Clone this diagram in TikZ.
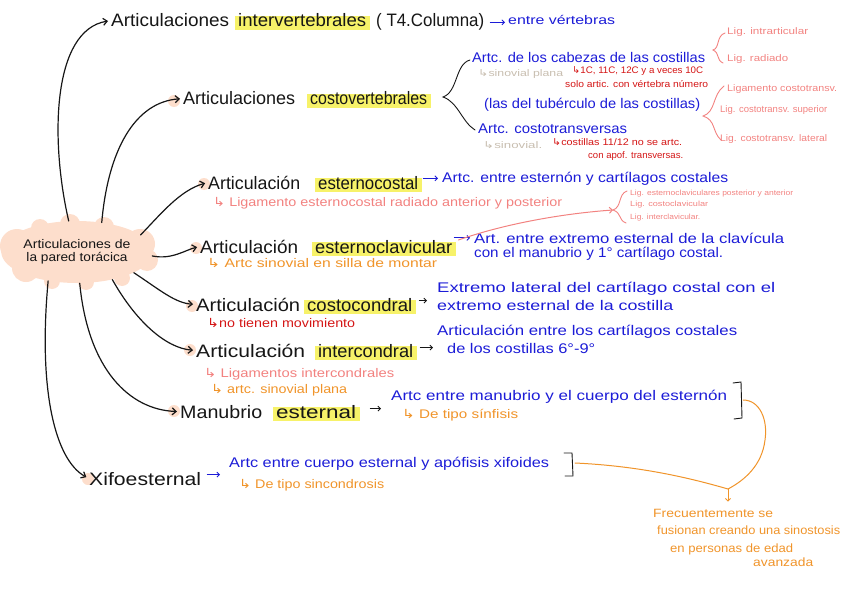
\documentclass[tikz,border=0pt]{standalone}
\usepackage{graphicx}
\usepackage{fontspec}
\setmainfont{Liberation Sans}
\newfontfamily\symf{DejaVu Sans}
\usetikzlibrary{arrows.meta,backgrounds,calc,shapes.geometric}
\definecolor{ink}{RGB}{22,22,22}
\definecolor{blu}{RGB}{28,28,215}
\definecolor{pnk}{RGB}{242,130,128}
\definecolor{rd}{RGB}{212,22,22}
\definecolor{org}{RGB}{240,148,42}
\definecolor{gry}{RGB}{200,190,176}
\definecolor{hlc}{RGB}{247,242,105}
\definecolor{peach}{RGB}{253,222,204}
\newcommand{\fx}[2]{\resizebox{#1pt}{\height}{#2}}
\newcommand{\dn}{{\symf ↳}}
\begin{document}
\begin{tikzpicture}[x=1pt,y=-1pt,
  tx/.style={anchor=base west,inner sep=0pt},
  hd/.style={tx,text=ink,font=\fontsize{18}{20}\selectfont},
  bl/.style={tx,text=blu,font=\fontsize{14}{16}\selectfont},
  sb/.style={tx,font=\fontsize{12.5}{15}\selectfont},
  sm/.style={tx,font=\fontsize{9.5}{11}\selectfont},
  tn/.style={tx,font=\fontsize{7.5}{9}\selectfont},
  fin/.style={tx,text=org,font=\fontsize{12}{14}\selectfont},
  conn/.style={draw=ink,line width=1.2pt,line cap=round,-{Straight Barb[length=4pt,width=7pt]},shorten >=3pt},
  sarr/.style={line width=0.9pt,line cap=round,-{Straight Barb[length=2.5pt,width=5pt]}},
  brc/.style={line width=0.9pt,line cap=round}]
\useasboundingbox (0,0) rectangle (848,599);

% central node
\node[ellipse,fill=peach,minimum width=150pt,minimum height=62pt,inner sep=0pt,align=center,text=ink,font=\fontsize{12.5}{13.5}\selectfont] (c) at (77,252) {\fx{107}{Articulaciones de}\\\fx{101}{la pared torácica}};

% heads
\node[hd] (h1a) at (111,27) {\fx{118}{Articulaciones}};
\node[hd] (h1b) at (238,27) {\fx{128}{intervertebrales}};
\node[hd] (h1c) at (376,27) {\fx{108}{( T4.Columna)}};
\node[tx,text=blu,font=\fontsize{12.5}{14}\selectfont] (e1) at (508,25) {\fx{107}{entre vértebras}};

\node[hd] (h2a) at (183,105) {\fx{112}{Articulaciones}};
\node[hd] (h2b) at (310,105) {\fx{117}{costovertebrales}};
\node[bl] (b1) at (472,63) {\fx{233}{Artc. de los cabezas de las costillas}};
\node[sm,text=gry] (g1) at (478,77) {\fx{85}{\dn sinovial plana}};
\node[sm,text=rd] (r1) at (572,74) {\fx{131}{\dn 1C, 11C, 12C y a veces 10C}};
\node[sm,text=rd] (r2) at (565,88) {\fx{143}{solo artic. con vértebra número}};
\node[bl] (b2) at (484,109) {\fx{216}{(las del tubérculo de las costillas)}};
\node[bl] (b3) at (478,134) {\fx{149}{Artc. costotransversas}};
\node[sm,text=gry] (g2) at (483,148) {\fx{59}{\dn sinovial.}};
\node[sm,text=rd] (r3) at (552,146) {\fx{130}{\dn costillas 11/12 no se artc.}};
\node[sm,text=rd] (r4) at (588,158) {\fx{95}{con apof. transversas.}};
\node[sm,text=pnk] (p1) at (727,35) {\fx{81}{Lig. intrarticular}};
\node[sm,text=pnk] (p2) at (727,62) {\fx{61}{Lig. radiado}};
\node[sm,text=pnk] (p3) at (727,92) {\fx{110}{Ligamento costotransv.}};
\node[sm,text=pnk] (p4) at (720,113) {\fx{107}{Lig. costotransv. superior}};
\node[sm,text=pnk] (p5) at (720,141) {\fx{107}{Lig. costotransv. lateral}};

\node[hd] (h3a) at (208,189) {\fx{92}{Articulación}};
\node[hd] (h3b) at (318,189) {\fx{100}{esternocostal}};
\node[bl] (b4) at (442,182) {\fx{286}{Artc. entre esternón y cartílagos costales}};
\node[sb,text=pnk] (p6) at (213,206) {\fx{349}{\dn\ Ligamento esternocostal radiado anterior y posterior}};
\node[tn,text=pnk] (p7) at (630,195) {\fx{163}{Lig. esternoclaviculares posterior y anterior}};
\node[tn,text=pnk] (p8) at (630,206) {\fx{78}{Lig. costoclavicular}};
\node[tn,text=pnk] (p9) at (630,219) {\fx{70}{Lig. interclavicular.}};

\node[hd] (h4a) at (200,253) {\fx{98}{Articulación}};
\node[hd] (h4b) at (315,253) {\fx{137}{esternoclavicular}};
\node[bl] (b5) at (474,243) {\fx{310}{Art. entre extremo esternal de la clavícula}};
\node[bl] (b6) at (474,257) {\fx{249}{con el manubrio y 1° cartílago costal.}};
\node[sb,text=org] (o1) at (207,267) {\fx{230}{\dn\ Artc sinovial en silla de montar}};

\node[hd] (h5a) at (196,311) {\fx{104}{Articulación}};
\node[hd] (h5b) at (307,311) {\fx{105}{costocondral}};
\node[bl] (b7) at (437,292) {\fx{338}{Extremo lateral del cartílago costal con el}};
\node[bl] (b8) at (437,310) {\fx{236}{extremo esternal de la costilla}};
\node[sb,text=rd] (r5) at (207,327) {\fx{148}{\dn no tienen movimiento}};
\node[bl] (b9) at (437,335) {\fx{300}{Articulación entre los cartílagos costales}};
\node[bl] (b10) at (447,353) {\fx{148}{de los costillas 6°-9°}};

\node[hd] (h6a) at (196,357) {\fx{109}{Articulación}};
\node[hd] (h6b) at (318,357) {\fx{95}{intercondral}};
\node[sb,text=pnk] (p10) at (204,377) {\fx{190}{\dn\ Ligamentos intercondrales}};
\node[sb,text=org] (o2) at (211,393) {\fx{136}{\dn\ artc. sinovial plana}};

\node[hd] (h7a) at (180,418) {\fx{82}{Manubrio}};
\node[hd] (h7b) at (276,418) {\fx{80}{esternal}};
\node[bl] (b11) at (391,400) {\fx{336}{Artc entre manubrio y el cuerpo del esternón}};
\node[sb,text=org] (o3) at (402,418) {\fx{116}{\dn\ De tipo sínfisis}};

\node[hd] (h8) at (89,485) {\fx{112}{Xifoesternal}};
\node[bl] (b12) at (229,467) {\fx{320}{Artc entre cuerpo esternal y apófisis xifoides}};
\node[sb,text=org] (o4) at (239,488) {\fx{145}{\dn\ De tipo sincondrosis}};

\node[fin] (f1) at (653,517) {\fx{120}{Frecuentemente se}};
\node[fin] (f2) at (657,534) {\fx{183}{fusionan creando una sinostosis}};
\node[fin] (f3) at (670,552) {\fx{123}{en personas de edad}};
\node[fin] (f4) at (753,566) {\fx{60}{avanzada}};

% background: cloud bumps, highlights
\begin{scope}[on background layer]
  \fill[peach] (17,246) circle (17) (26,268) circle (14) (140,244) circle (15)
    (147,260) circle (11) (70,224) circle (10) (104,227) circle (10) (40,228) circle (9)
    (86,282) circle (8) (122,278) circle (8) (52,281) circle (8);
  \foreach \p in {(174,101),(204,184),(196,248),(192,306),(190,350),(174,411),(88,479)}
    \fill[peach] \p circle (6);
  \foreach \n in {h1b,h2b,h3b,h4b,h5b,h6b,h7b}
    \fill[hlc] ($(\n.base west)+(-3,3)$) rectangle ($(\n.base east)+(4,-11)$);
\end{scope}

% connectors from the central node
\draw[conn] (c.105) .. controls (50,140) and (52,30) .. (h1a.west);
\draw[conn] (c.50) .. controls (108,150) and (135,102) .. (h2a.west);
\draw[conn] (c.15) .. controls (160,215) and (180,190) .. (h3a.west);
\draw[conn] (c.-3) .. controls (172,260) and (185,250) .. (h4a.west);
\draw[conn] (c.-20) .. controls (160,290) and (175,303) .. (h5a.west);
\draw[conn] (c.-38) .. controls (135,320) and (165,348) .. (h6a.west);
\draw[conn] (c.-85) .. controls (88,370) and (130,410) .. (h7a.west);
\draw[conn] (c.-135) .. controls (38,390) and (55,460) .. (h8.west);

% small arrows
\draw[sarr,blu,shorten <=6pt,shorten >=3pt] (h1c.east) -- (h1c.east -| e1.west);
\draw[sarr,blu,shorten <=5pt,shorten >=4pt] (h3b.east |- b4.west) -- (b4.west);
\draw[sarr,blu,shorten <=2pt,shorten >=4pt] (h4b.east |- b5.west) -- (b5.west);
\draw[sarr,ink,shorten <=7pt,shorten >=10pt] ($(h5b.east)+(0,-4)$) -- ($(h5b.east -| b7.west)+(0,-4)$);
\draw[sarr,ink,shorten <=7pt,shorten >=14pt] ($(h6b.east)+(0,-3)$) -- ($(h6b.east -| b10.west)+(0,-3)$);
\draw[sarr,ink,shorten <=14pt,shorten >=10pt] ($(h7b.east)+(0,-3)$) -- ($(h7b.east -| b11.west)+(0,-3)$);
\draw[sarr,blu,shorten <=6pt,shorten >=9pt] ($(h8.east)+(0,-4)$) -- ($(h8.east -| b12.west)+(0,-4)$);

% black brace for costovertebrales
\draw[brc,ink] (470,60) .. controls (455,64) and (458,92) .. (443,97) .. controls (458,102) and (462,122) .. (475,130);

% pink braces
\draw[brc,pnk] (725,33) .. controls (716,36) and (720,48) .. (713,50) .. controls (720,53) and (716,60) .. (723,63);
\draw[brc,pnk] (724,86) .. controls (712,95) and (716,112) .. (703,116) .. controls (716,120) and (712,132) .. (721,140);
\coordinate (pt) at (613,210);
\draw[brc,pnk] (627,191) .. controls (618,194) and (622,207) .. (pt) .. controls (622,213) and (618,220) .. (626,223);
\draw[pnk,line width=1pt,line cap=round,-{Straight Barb[length=3pt,width=6pt]}] ($(h4b.base east)+(6,-13)$) .. controls (510,222) and (570,213) .. (pt);

% brackets
\draw[brc,ink] (733,383) -- (741,382) -- (742,418) -- (734,419);
\draw[brc,ink] (564,453) -- (572,453) -- (573,476) -- (565,476);

% orange joins
\coordinate (jn) at (728,489);
\draw[org,line width=1pt,line cap=round] (575,463) .. controls (640,466) and (690,478) .. (jn);
\draw[org,line width=1pt,line cap=round] (743,400) .. controls (760,400) and (768,420) .. (765,440) .. controls (762,465) and (745,480) .. (jn);
\draw[sarr,org,shorten >=7pt] (jn) -- (jn |- f1.north);
\end{tikzpicture}
\end{document}
